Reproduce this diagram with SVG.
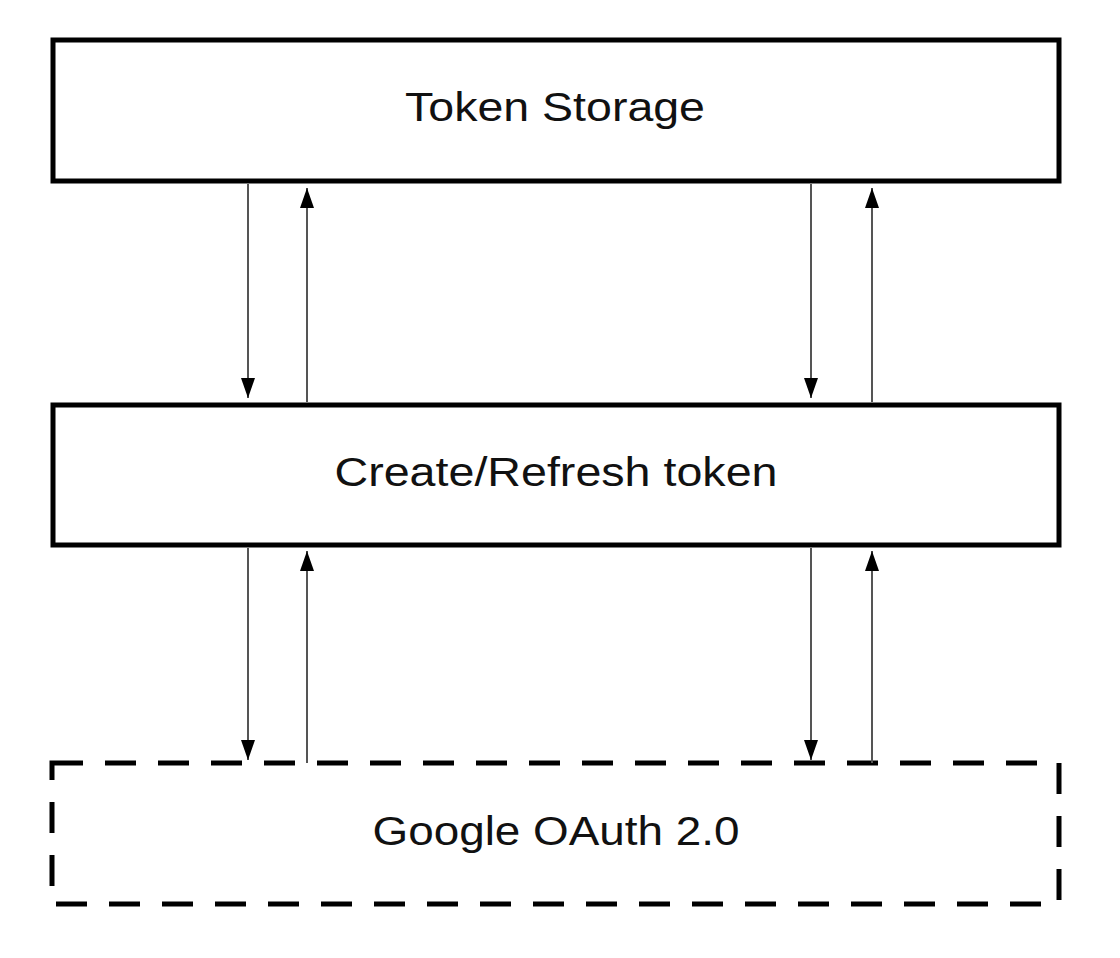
<svg xmlns="http://www.w3.org/2000/svg" width="1120" height="958" viewBox="0 0 1120 958">
<style>
.box{fill:#fff;stroke:#000;stroke-width:5;stroke-linejoin:miter}
.dash{fill:none;stroke:#000;stroke-width:5;stroke-dasharray:31 22}
.lbl{font-family:"Liberation Sans",Arial,sans-serif;font-size:41px;fill:#111;text-anchor:middle}
.conn line{stroke:#555;stroke-width:2}
.ah{fill:#000}
</style>
<defs>
<marker id="arr" viewBox="0 0 20 14" refX="20" refY="7" markerWidth="20" markerHeight="14" markerUnits="userSpaceOnUse" orient="auto">
<path class="ah" d="M0,0 L20,7 L0,14 Z"/>
</marker>
</defs>
<g id="token-storage">
<rect class="box" x="53" y="40" width="1006" height="141"/>
<text class="lbl" x="555" y="121" textLength="300" lengthAdjust="spacingAndGlyphs">Token Storage</text>
</g>
<g id="create-refresh">
<rect class="box" x="53" y="405" width="1006" height="140"/>
<text class="lbl" x="556" y="486" textLength="443" lengthAdjust="spacingAndGlyphs">Create/Refresh token</text>
</g>
<g id="google-oauth">
<rect class="dash" x="52" y="763" width="1007" height="141"/>
<text class="lbl" x="556" y="845" textLength="367" lengthAdjust="spacingAndGlyphs">Google OAuth 2.0</text>
</g>
<g id="connectors" class="conn">
<line x1="248" y1="184" x2="248" y2="398" marker-end="url(#arr)"/>
<line x1="307" y1="402" x2="307" y2="188" marker-end="url(#arr)"/>
<line x1="811" y1="184" x2="811" y2="398" marker-end="url(#arr)"/>
<line x1="872" y1="402" x2="872" y2="188" marker-end="url(#arr)"/>
<line x1="248" y1="548" x2="248" y2="760" marker-end="url(#arr)"/>
<line x1="307" y1="763" x2="307" y2="551" marker-end="url(#arr)"/>
<line x1="811" y1="548" x2="811" y2="760" marker-end="url(#arr)"/>
<line x1="872" y1="763" x2="872" y2="551" marker-end="url(#arr)"/>
</g>
</svg>
